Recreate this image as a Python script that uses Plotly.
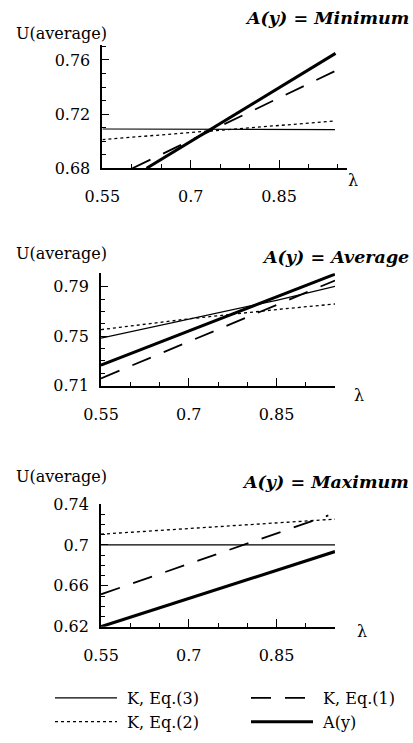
import plotly.graph_objects as go

# ---------------- data ----------------
# Panel 1: A(y) = Minimum
p1_x_eq3 = [0.55, 0.70, 0.85, 0.945]
p1_eq3 = [0.709, 0.709, 0.709, 0.7085]
p1_x_eq2 = [0.55, 0.70, 0.85, 0.945]
p1_eq2 = [0.7012, 0.7064, 0.7116, 0.7149]
p1_x_eq1 = [0.601, 0.70, 0.85, 0.965]
p1_eq1 = [0.680, 0.7006, 0.7319, 0.7559]
p1_x_ay = [0.625, 0.70, 0.85, 0.946]
p1_ay = [0.680, 0.6998, 0.7394, 0.7648]

# Panel 2: A(y) = Average
p2_x = [0.55, 0.70, 0.85, 0.95]
p2_eq3 = [0.7485, 0.7635, 0.7790, 0.7902]
p2_eq2 = [0.7553, 0.7640, 0.7715, 0.7760]
p2_eq1 = [0.7159, 0.7456, 0.7753, 0.7950]
p2_ay = [0.7266, 0.7542, 0.7817, 0.8001]

# Panel 3: A(y) = Maximum
p3_x = [0.55, 0.70, 0.85, 0.95]
p3_eq3 = [0.700, 0.700, 0.700, 0.700]
p3_eq2 = [0.7105, 0.7160, 0.7215, 0.7252]
p3_x_eq1 = [0.55, 0.70, 0.85, 0.9386]
p3_eq1 = [0.6517, 0.6814, 0.7111, 0.7288]
p3_ay = [0.620, 0.6476, 0.6751, 0.6935]

series_names = ["K, Eq.(3)", "K, Eq.(1)", "K, Eq.(2)", "A(y)"]
panel_titles = ["A(y) = Minimum", "A(y) = Average", "A(y) = Maximum"]
y_label = "U(average)"
x_label = "λ"

# ---------------- styling ----------------
FONT = "DejaVu Serif"
W, H = 413, 743
styles = {
    "K, Eq.(3)": dict(color="black", width=1.2, dash="solid"),
    "K, Eq.(1)": dict(color="black", width=1.8, dash="20px,14px"),
    "K, Eq.(2)": dict(color="black", width=1.3, dash="3px,3px"),
    "A(y)": dict(color="black", width=3.0, dash="solid"),
}

def py(px):
    return 1 - px / H

def pxx(px):
    return px / W

fig = go.Figure()

panels = [
    dict(data={"K, Eq.(3)": (p1_x_eq3, p1_eq3), "K, Eq.(1)": (p1_x_eq1, p1_eq1),
               "K, Eq.(2)": (p1_x_eq2, p1_eq2), "A(y)": (p1_x_ay, p1_ay)},
         xr=[0.55, 0.965], yr=[0.68, 0.771], ytick0=0.68,
         xdom=[pxx(102.4), pxx(346.7)], ydom=[py(168.3), py(45)]),
    dict(data={"K, Eq.(3)": (p2_x, p2_eq3), "K, Eq.(1)": (p2_x, p2_eq1),
               "K, Eq.(2)": (p2_x, p2_eq2), "A(y)": (p2_x, p2_ay)},
         xr=[0.55, 0.95], yr=[0.71, 0.8008], ytick0=0.71,
         xdom=[pxx(101), pxx(335)], ydom=[py(385.7), py(273.3)]),
    dict(data={"K, Eq.(3)": (p3_x, p3_eq3), "K, Eq.(1)": (p3_x_eq1, p3_eq1),
               "K, Eq.(2)": (p3_x, p3_eq2), "A(y)": (p3_x, p3_ay)},
         xr=[0.55, 0.95], yr=[0.62, 0.7405], ytick0=0.62,
         xdom=[pxx(101), pxx(335)], ydom=[py(626.7), py(503.5)]),
]

for i, p in enumerate(panels):
    sfx = "" if i == 0 else str(i + 1)
    for name in series_names:
        xs, ys = p["data"][name]
        fig.add_trace(go.Scatter(
            x=xs, y=ys, mode="lines", name="\u00a0" + name, line=styles[name],
            xaxis="x" + sfx, yaxis="y" + sfx,
            showlegend=(i == 0), hoverinfo="skip"))
    axis_common = dict(showgrid=False, zeroline=False, showline=True, automargin=False,
                       linecolor="black", linewidth=1.8, ticks="inside",
                       tickcolor="black", tickwidth=1.3,
                       tickfont=dict(family=FONT, size=16, color="black"))
    fig.layout["xaxis" + sfx] = dict(
        axis_common, domain=p["xdom"], range=p["xr"], anchor="y" + sfx,
        tick0=0.55, dtick=0.15, ticklen=8, ticklabelstandoff=13,
        minor=dict(dtick=0.05, tick0=0.55, ticks="inside", ticklen=4,
                   tickcolor="black", tickwidth=1.2))
    fig.layout["yaxis" + sfx] = dict(
        axis_common, domain=p["ydom"], range=p["yr"], anchor="x" + sfx,
        tick0=p["ytick0"], dtick=0.04, ticklen=7, ticklabelstandoff=7,
        minor=dict(dtick=0.01, tick0=p["ytick0"], ticks="inside", ticklen=4,
                   tickcolor="black", tickwidth=1.2))

annotations = []
ylab_pos = [34, 254, 476]
title_pos = [18, 257, 482]
lam_pos = [(353, 180), (359, 395), (362, 631)]
for i in range(3):
    annotations.append(dict(text=y_label, xref="paper", yref="paper",
                            x=pxx(14), y=py(ylab_pos[i]), xanchor="left", yanchor="middle",
                            showarrow=False, font=dict(family=FONT, size=16, color="black")))
    annotations.append(dict(text="<b><i>" + panel_titles[i] + "</i></b>", xref="paper", yref="paper",
                            x=pxx(411), y=py(title_pos[i]), xanchor="right", yanchor="middle",
                            showarrow=False, font=dict(family=FONT, size=17.5, color="black")))
    annotations.append(dict(text=x_label, xref="paper", yref="paper",
                            x=pxx(lam_pos[i][0]), y=py(lam_pos[i][1]), xanchor="center", yanchor="middle",
                            showarrow=False, font=dict(family=FONT, size=16, color="black")))

fig.update_layout(
    width=W, height=H, margin=dict(l=0, r=0, t=0, b=0, autoexpand=False),
    paper_bgcolor="white", plot_bgcolor="white",
    annotations=annotations,
    legend=dict(orientation="h", x=pxx(50), y=py(681), xanchor="left", yanchor="top",
                entrywidth=119, entrywidthmode="pixels", itemwidth=62,
                font=dict(family=FONT, size=16, color="black"),
                bgcolor="rgba(0,0,0,0)", tracegroupgap=0),
)

fig.write_html("out.html", config={"displayModeBar": False},
               post_script="document.body.style.margin='0';")
